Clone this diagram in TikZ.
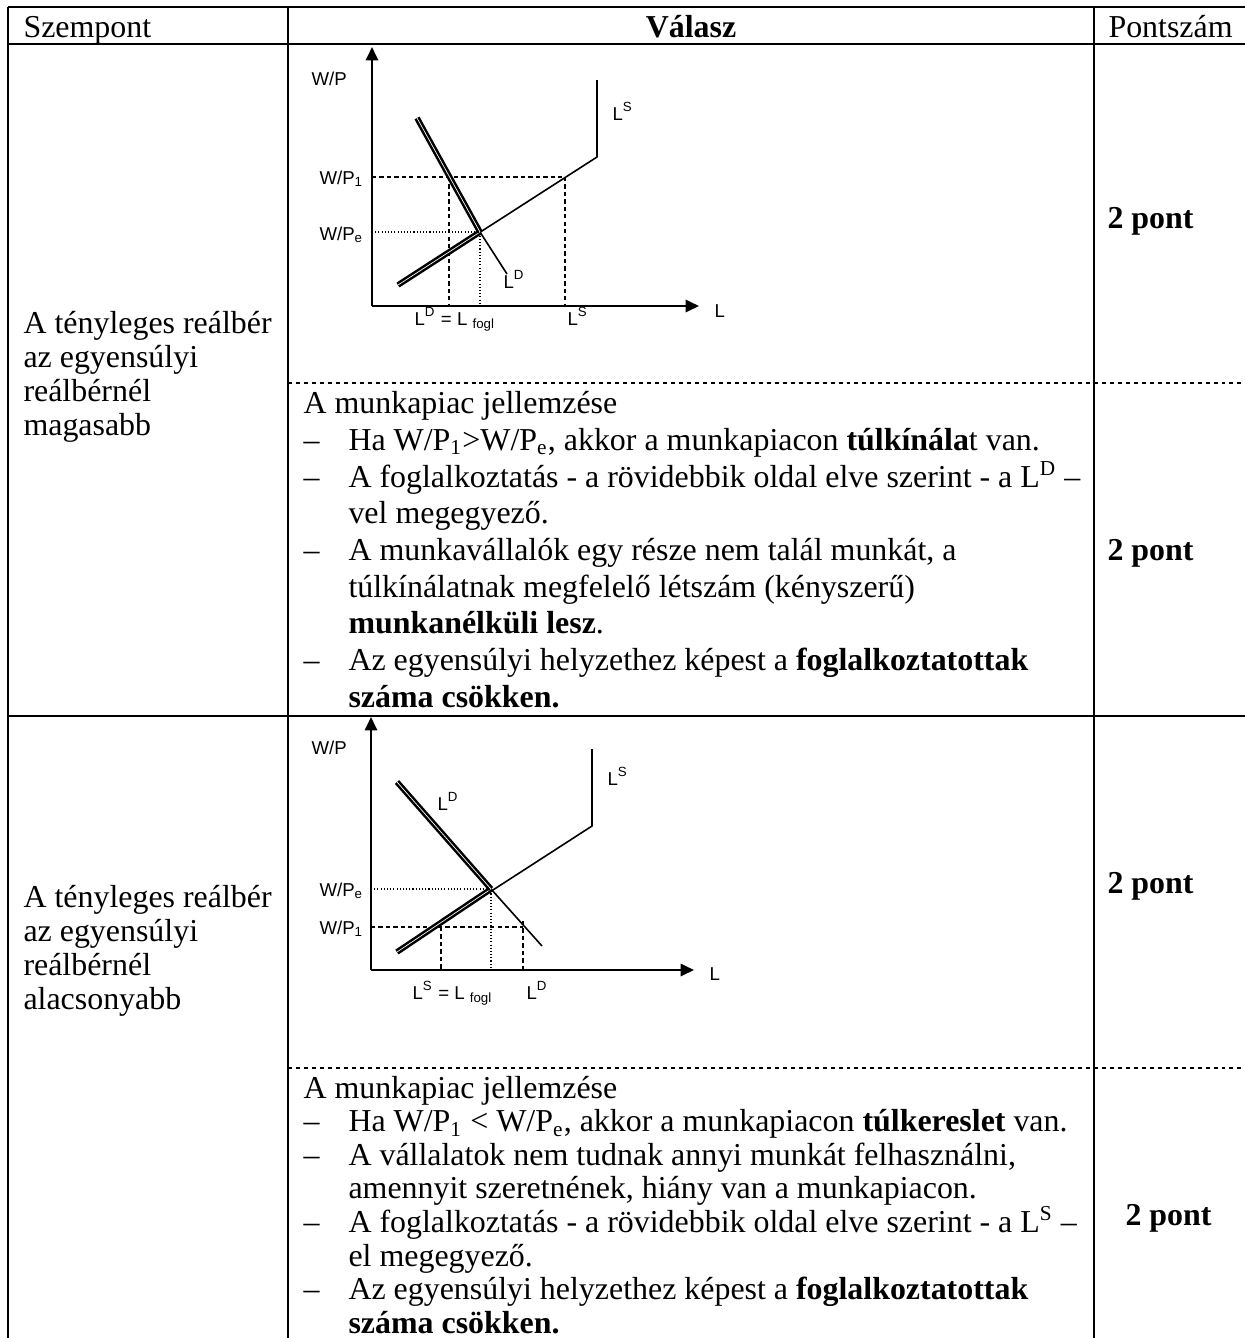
\documentclass[tikz,border=0pt]{standalone}
\usepackage{fontspec}
\setmainfont{Liberation Serif}
\newfontfamily\arialf{Liberation Sans}
\usetikzlibrary{arrows.meta}
\begin{document}
\begin{tikzpicture}[x=0.376pt,y=-0.376pt,
 tx/.style={anchor=base west, inner sep=0pt, font=\fontsize{12}{14}\selectfont},
 txc/.style={anchor=base, inner sep=0pt, font=\fontsize{12}{14}\selectfont},
 gl/.style={anchor=base west, inner sep=0pt, font=\arialf\fontsize{7}{8}\selectfont},
 gle/.style={anchor=base east, inner sep=0pt, font=\arialf\fontsize{7}{8}\selectfont},
 rule/.style={line width=0.9pt},
 dotrule/.style={line width=0.8pt, dash pattern=on 1.5pt off 1.5pt},
 axis/.style={line width=0.75pt, -{Triangle[length=5pt,width=4.6pt]}},
 curve/.style={line width=0.6pt},
 thickc/.style={line width=0.95pt, double=white, double distance=0.25pt},
 dsh/.style={line width=0.7pt, dash pattern=on 1.6pt off 1.2pt},
 dtt/.style={line width=0.45pt, dash pattern=on 0.4pt off 0.8pt}]

\useasboundingbox (0,0) rectangle (1245,1338);
\fill[white] (0,0) rectangle (1245,1338);

% ---------- table rules ----------
\draw[rule] (8,7) -- (1245,7);
\draw[rule] (8,44) -- (1245,44);
\draw[rule] (8,716) -- (1245,716);
\draw[rule] (8,7) -- (8,1338);
\draw[rule] (288,7) -- (288,1338);
\draw[rule] (1094,7) -- (1094,1338);
\draw[dotrule] (288,383) -- (1245,383);
\draw[dotrule] (288,1068) -- (1245,1068);

% ---------- header ----------
\node[tx] (h1) at (23,37) {Szempont};
\node[txc] (h2) at (691,37) {\textbf{Válasz}};
\node[tx] (h3) at (1108,37) {Pontszám};

% ---------- graph 1 ----------
\coordinate (O1) at (372,306);
\coordinate (Y1) at (372,47);
\coordinate (X1) at (699,306);
\coordinate (S1a) at (398,285);
\coordinate (E1) at (480,232);
\coordinate (S1b) at (565,177);
\coordinate (S1k) at (597,157);
\coordinate (S1t) at (597,80);
\coordinate (D1a) at (417,118);
\coordinate (D1b) at (449,177);
\coordinate (D1e) at (507,274);

\draw[dsh] (O1|-D1b) -- (S1b);
\draw[dsh] (D1b) -- (D1b|-O1);
\draw[dsh] (S1b) -- (S1b|-O1);
\draw[dtt] (O1|-E1) -- (E1) -- (E1|-O1);
\draw[curve] (S1a) -- (S1k) -- (S1t);
\draw[curve] (E1) -- (D1e);
\draw[thickc] (S1a) -- (E1);
\draw[thickc] (D1a) -- (E1);
\draw[axis] (O1) -- (Y1);
\draw[axis] (O1) -- (X1);

\node[gl] (g1wp) at (311,85) {W/P};
\node[gle] (g1w1) at (364,184) {W/P\textsubscript{1}};
\node[gle] (g1we) at (364,240) {W/P\textsubscript{e}};
\node[gl] (g1ls) at (612,120) {L\textsuperscript{S}};
\node[gl] (g1ld) at (503,288) {L\textsuperscript{D}};
\node[gl] (g1l) at (714,317) {L};
\node[gl] (g1b1) at (414,325) {L\textsuperscript{D} = L \textsubscript{fogl}};
\node[gl] (g1b2) at (567,325) {L\textsuperscript{S}};

% ---------- graph 2 ----------
\coordinate (O2) at (371,970);
\coordinate (Y2) at (371,717);
\coordinate (X2) at (694,970);
\coordinate (S2a) at (397,952);
\coordinate (E2) at (491,889);
\coordinate (S2k) at (592,826);
\coordinate (S2t) at (592,749);
\coordinate (D2a) at (397,782);
\coordinate (D2e) at (542,946);
\coordinate (Q2) at (441,927);
\coordinate (R2) at (523,927);
\coordinate (R2t) at (523,921);

\draw[dsh] (O2|-Q2) -- (R2);
\draw[dsh] (Q2) -- (Q2|-O2);
\draw[dsh] (R2t) -- (R2t|-O2);
\draw[dtt] (O2|-E2) -- (E2) -- (E2|-O2);
\draw[curve] (S2a) -- (S2k) -- (S2t);
\draw[curve] (E2) -- (D2e);
\draw[thickc] (S2a) -- (E2);
\draw[thickc] (D2a) -- (E2);
\draw[axis] (O2) -- (Y2);
\draw[axis] (O2) -- (X2);

\node[gl] (g2wp) at (311,754) {W/P};
\node[gle] (g2we) at (364,896) {W/P\textsubscript{e}};
\node[gle] (g2w1) at (364,934) {W/P\textsubscript{1}};
\node[gl] (g2ld) at (437,810) {L\textsuperscript{D}};
\node[gl] (g2ls) at (607,785) {L\textsuperscript{S}};
\node[gl] (g2l) at (709,980) {L};
\node[gl] (g2b1) at (412,999) {L\textsuperscript{S} = L \textsubscript{fogl}};
\node[gl] (g2b2) at (526,999) {L\textsuperscript{D}};

% ---------- column 1 ----------
\node[tx] (a1) at (23,333) {A tényleges reálbér};
\node[tx] (a2) at (23,367) {az egyensúlyi};
\node[tx] (a3) at (23,401) {reálbérnél};
\node[tx] (a4) at (23,435) {magasabb};

\node[tx] (b1) at (23,907) {A tényleges reálbér};
\node[tx] (b2) at (23,941) {az egyensúlyi};
\node[tx] (b3) at (23,975) {reálbérnél};
\node[tx] (b4) at (23,1009) {alacsonyabb};

% ---------- points ----------
\node[tx] (p1) at (1107,228) {\textbf{2 pont}};
\node[tx] (p2) at (1107,560) {\textbf{2 pont}};
\node[tx] (p3) at (1107,893) {\textbf{2 pont}};
\node[tx] (p4) at (1125,1225) {\textbf{2 pont}};

% ---------- row A text ----------
\node[tx] (ta1) at (303,413) {A munkapiac jellemzése};
\node[tx] (da2) at (303,450) {–};
\node[tx] (ta2) at (348,450) {Ha W/P\textsubscript{1}>W/P\textsubscript{e}, akkor a munkapiacon \textbf{túlkínála}t van.};
\node[tx] (da3) at (303,487) {–};
\node[tx] (ta3) at (348,487) {A foglalkoztatás - a rövidebbik oldal elve szerint - a L\textsuperscript{D} –};
\node[tx] (ta4) at (348,523) {vel megegyező.};
\node[tx] (da5) at (303,560) {–};
\node[tx] (ta5) at (348,560) {A munkavállalók egy része nem talál munkát, a};
\node[tx] (ta6) at (348,597) {túlkínálatnak megfelelő létszám (kényszerű)};
\node[tx] (ta7) at (348,633) {\textbf{munkanélküli lesz}.};
\node[tx] (da8) at (303,670) {–};
\node[tx] (ta8) at (348,670) {Az egyensúlyi helyzethez képest a \textbf{foglalkoztatottak}};
\node[tx] (ta9) at (348,707) {\textbf{száma csökken.}};

% ---------- row B text ----------
\node[tx] (tb1) at (303,1098) {A munkapiac jellemzése};
\node[tx] (db2) at (303,1131.6) {–};
\node[tx] (tb2) at (348,1131.6) {Ha W/P\textsubscript{1} < W/P\textsubscript{e}, akkor a munkapiacon \textbf{túlkereslet} van.};
\node[tx] (db3) at (303,1165.2) {–};
\node[tx] (tb3) at (348,1165.2) {A vállalatok nem tudnak annyi munkát felhasználni,};
\node[tx] (tb4) at (348,1198.8) {amennyit szeretnének, hiány van a munkapiacon.};
\node[tx] (db5) at (303,1232.4) {–};
\node[tx] (tb5) at (348,1232.4) {A foglalkoztatás - a rövidebbik oldal elve szerint - a L\textsuperscript{S} –};
\node[tx] (tb6) at (348,1266) {el megegyező.};
\node[tx] (db7) at (303,1299.6) {–};
\node[tx] (tb7) at (348,1299.6) {Az egyensúlyi helyzethez képest a \textbf{foglalkoztatottak}};
\node[tx] (tb8) at (348,1333.2) {\textbf{száma csökken.}};
\end{tikzpicture}
\end{document}
